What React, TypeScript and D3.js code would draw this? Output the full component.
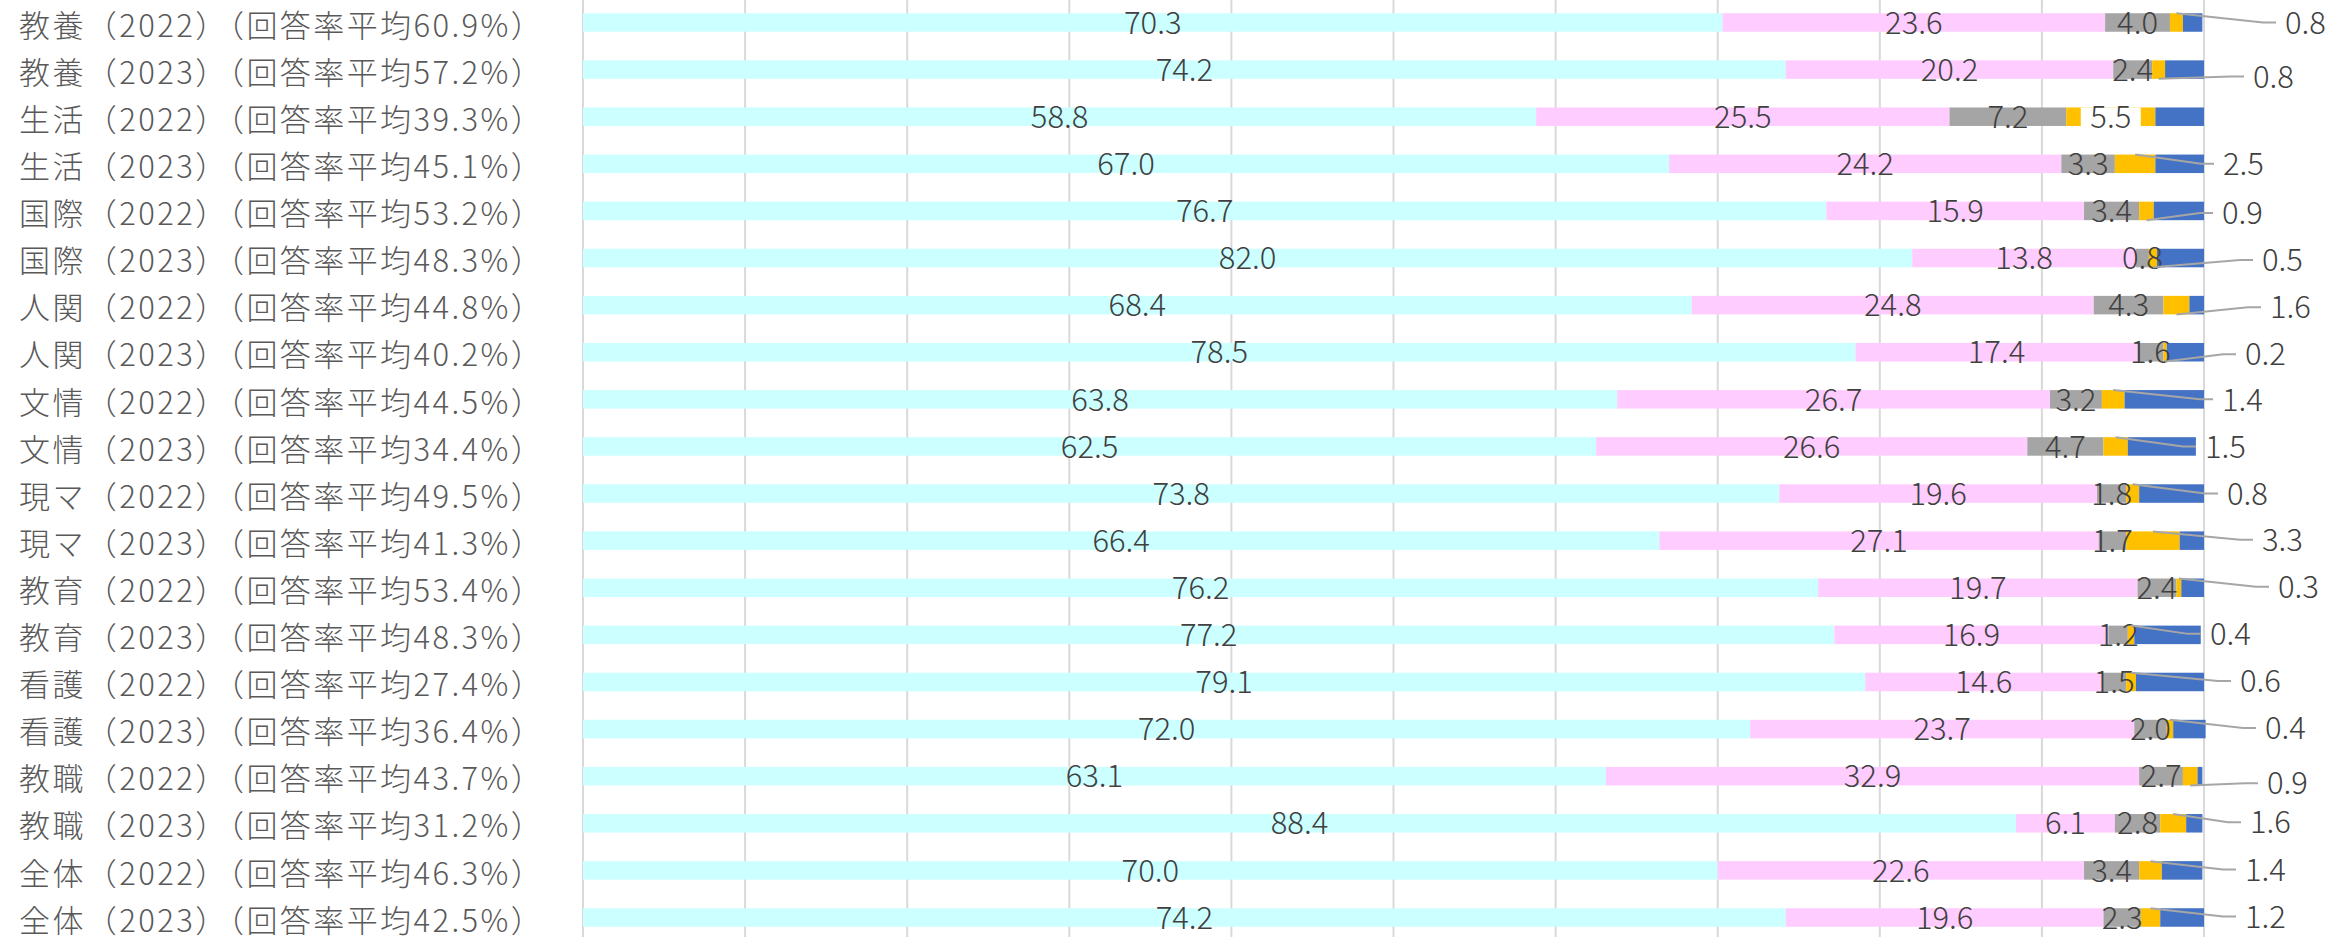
import React, { useEffect, useRef } from "react";
import * as d3 from "d3";

const categories = [
  "教養（2022）（回答率平均60.9%）",
  "教養（2023）（回答率平均57.2%）",
  "生活（2022）（回答率平均39.3%）",
  "生活（2023）（回答率平均45.1%）",
  "国際（2022）（回答率平均53.2%）",
  "国際（2023）（回答率平均48.3%）",
  "人関（2022）（回答率平均44.8%）",
  "人関（2023）（回答率平均40.2%）",
  "文情（2022）（回答率平均44.5%）",
  "文情（2023）（回答率平均34.4%）",
  "現マ（2022）（回答率平均49.5%）",
  "現マ（2023）（回答率平均41.3%）",
  "教育（2022）（回答率平均53.4%）",
  "教育（2023）（回答率平均48.3%）",
  "看護（2022）（回答率平均27.4%）",
  "看護（2023）（回答率平均36.4%）",
  "教職（2022）（回答率平均43.7%）",
  "教職（2023）（回答率平均31.2%）",
  "全体（2022）（回答率平均46.3%）",
  "全体（2023）（回答率平均42.5%）",
];

const seriesA = [70.3, 74.2, 58.8, 67.0, 76.7, 82.0, 68.4, 78.5, 63.8, 62.5, 73.8, 66.4, 76.2, 77.2, 79.1, 72.0, 63.1, 88.4, 70.0, 74.2];
const seriesB = [23.6, 20.2, 25.5, 24.2, 15.9, 13.8, 24.8, 17.4, 26.7, 26.6, 19.6, 27.1, 19.7, 16.9, 14.6, 23.7, 32.9, 6.1, 22.6, 19.6];
const seriesC = [4.0, 2.4, 7.2, 3.3, 3.4, 0.8, 4.3, 1.6, 3.2, 4.7, 1.8, 1.7, 2.4, 1.2, 1.5, 2.0, 2.7, 2.8, 3.4, 2.3];
const seriesD = [0.8, 0.8, 5.5, 2.5, 0.9, 0.5, 1.6, 0.2, 1.4, 1.5, 0.8, 3.3, 0.3, 0.4, 0.6, 0.4, 0.9, 1.6, 1.4, 1.2];
const seriesE = [1.2, 2.4, 3.0, 3.0, 3.1, 2.9, 0.9, 2.3, 4.9, 4.2, 4.0, 1.5, 1.4, 4.1, 4.2, 2.0, 0.3, 1.0, 2.5, 2.7];

const keys = ["a", "b", "c", "d", "e"];
const colors = ["#CCFFFF", "#FFCCFF", "#A5A5A5", "#FFC000", "#4472C4"];

// callout placement for the 4th series labels: [dx from 100%, dy from row center, edge]
// null => label sits inside the segment on a white box
const callouts: ([number, number, string] | null)[] = [
  [81, 0, "top"],
  [49, 7, "bottom"],
  null,
  [19, 0, "top"],
  [18, 2, "bottom"],
  [58, 2, "bottom"],
  [66, 2, "bottom"],
  [41, 2, "bottom"],
  [18, 0, "top"],
  [1, 0, "top"],
  [23, 0, "top"],
  [58, -1, "top"],
  [74, -1, "top"],
  [6, -1, "top"],
  [36, -1, "top"],
  [61, -1, "top"],
  [63, 7, "bottom"],
  [46, -1, "top"],
  [41, -1, "top"],
  [41, -1, "top"],
];

const W = 2351;
const H = 937;
const plot = { left: 583, right: 2204, top: -1.05, bottom: 941.05 };
const FONT = "'Noto Sans CJK JP', 'Noto Sans', sans-serif";

export default function App() {
  const svgRef = useRef<SVGSVGElement>(null);

  useEffect(() => {
    const svg = d3.select(svgRef.current);
    svg.selectAll("*").remove();

    const rows = categories.map((c, i) => ({
      cat: c,
      a: seriesA[i],
      b: seriesB[i],
      c: seriesC[i],
      d: seriesD[i],
      e: seriesE[i],
    }));

    const x = d3.scaleLinear().domain([0, 100]).range([plot.left, plot.right]);
    const y = d3
      .scaleBand()
      .domain(categories)
      .range([plot.top, plot.bottom])
      .paddingInner(0.607)
      .paddingOuter(0.3035);
    const bw = y.bandwidth();
    const fmt = d3.format(".1f");

    // gridlines
    svg
      .append("g")
      .selectAll("line")
      .data(x.ticks(10))
      .enter()
      .append("line")
      .attr("x1", (d) => x(d))
      .attr("x2", (d) => x(d))
      .attr("y1", 0)
      .attr("y2", H)
      .attr("stroke", "#D9D9D9")
      .attr("stroke-width", 2);

    const stacked = d3.stack<any>().keys(keys)(rows);

    // bars
    svg
      .append("g")
      .selectAll("g")
      .data(stacked)
      .enter()
      .append("g")
      .attr("fill", (d, i) => colors[i])
      .selectAll("rect")
      .data((d) => d)
      .enter()
      .append("rect")
      .attr("x", (d) => x(d[0]))
      .attr("width", (d) => x(d[1]) - x(d[0]))
      .attr("y", (d) => y(d.data.cat)!)
      .attr("height", bw);

    // category labels
    svg
      .append("g")
      .selectAll("text")
      .data(categories)
      .enter()
      .append("text")
      .attr("x", 19)
      .attr("y", (d) => y(d)! + bw / 2 + 3)
      .attr("dy", "0.36em")
      .attr("fill", "#595959")
      .attr("font-family", FONT)
      .attr("font-size", 31)
      .attr("font-weight", 300)
      .attr("letter-spacing", 2.4)
      .text((d) => d);

    const labels = svg
      .append("g")
      .attr("font-family", FONT)
      .attr("font-size", 31)
      .attr("font-weight", 300)
      .attr("fill", "#404040");

    // inside labels for first three series
    stacked.slice(0, 3).forEach((s) => {
      labels
        .append("g")
        .selectAll("text")
        .data(s)
        .enter()
        .append("text")
        .attr("x", (d) => x((d[0] + d[1]) / 2))
        .attr("y", (d) => y(d.data.cat)! + bw / 2)
        .attr("dy", "0.36em")
        .attr("text-anchor", "middle")
        .text((d) => fmt(d[1] - d[0]));
    });

    // 4th series: callouts with leader lines
    const leaders = svg.append("g");
    stacked[3].forEach((d, i) => {
      const cy = y(d.data.cat)! + bw / 2;
      const v = d[1] - d[0];
      const co = callouts[i];
      if (!co) {
        const cx = x((d[0] + d[1]) / 2);
        labels
          .append("rect")
          .attr("x", cx - 30)
          .attr("y", cy - bw / 2)
          .attr("width", 60)
          .attr("height", bw)
          .attr("fill", "#FFFFFF");
        labels
          .append("text")
          .attr("x", cx)
          .attr("y", cy)
          .attr("dy", "0.36em")
          .attr("text-anchor", "middle")
          .text(fmt(v));
        return;
      }
      const [dx, dy, edge] = co;
      const lx = x(100) + dx;
      const ly = cy + dy;
      const sx = x((d[0] + d[1]) / 2);
      const sy = edge === "top" ? cy - bw / 2 : cy + bw / 2;
      leaders
        .append("polyline")
        .attr("points", `${sx},${sy} ${lx - 22},${ly} ${lx - 9},${ly}`)
        .attr("fill", "none")
        .attr("stroke", "#A6A6A6")
        .attr("stroke-width", 2);
      labels
        .append("text")
        .attr("x", lx)
        .attr("y", ly)
        .attr("dy", "0.36em")
        .text(fmt(v));
    });
  }, []);

  return (
    <svg
      ref={svgRef}
      width={W}
      height={H}
      style={{ position: "absolute", left: 0, top: 0, background: "#FFFFFF" }}
    />
  );
}
